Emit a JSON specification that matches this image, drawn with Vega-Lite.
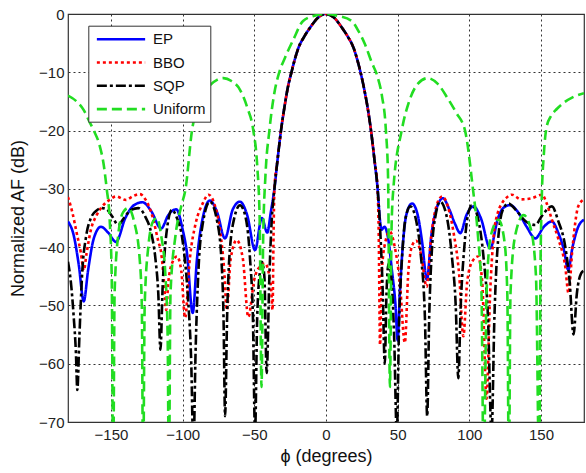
{
  "$schema": "https://vega.github.io/schema/vega-lite/v6.json",
  "width": 516,
  "height": 408,
  "autosize": {"type": "none"},
  "padding": {"left": 68, "top": 14, "right": 2, "bottom": 51},
  "background": "white",
  "data": {"values": [
    {"s":"EP","x":-180,"y":-35.6},{"s":"EP","x":-176,"y":-38},{"s":"EP","x":-172.5,"y":-43},{"s":"EP","x":-169,"y":-49.3},{"s":"EP","x":-166,"y":-44},{"s":"EP","x":-162,"y":-38.5},{"s":"EP","x":-157,"y":-36.5},{"s":"EP","x":-152,"y":-37.5},{"s":"EP","x":-146.5,"y":-39.1},{"s":"EP","x":-140,"y":-35},{"s":"EP","x":-134,"y":-32.8},{"s":"EP","x":-128,"y":-32.3},{"s":"EP","x":-122,"y":-33.8},{"s":"EP","x":-115,"y":-36.8},{"s":"EP","x":-110,"y":-34.5},{"s":"EP","x":-104.5,"y":-33.5},{"s":"EP","x":-100,"y":-37},{"s":"EP","x":-97,"y":-41},{"s":"EP","x":-93,"y":-51.3},{"s":"EP","x":-90,"y":-42},{"s":"EP","x":-86,"y":-35},{"s":"EP","x":-81,"y":-32},{"s":"EP","x":-76,"y":-34},{"s":"EP","x":-70.5,"y":-38.5},{"s":"EP","x":-65,"y":-33.5},{"s":"EP","x":-60,"y":-32.2},{"s":"EP","x":-55,"y":-34.5},{"s":"EP","x":-49.5,"y":-40.5},{"s":"EP","x":-44.8,"y":-35},{"s":"EP","x":-41,"y":-37.5},{"s":"EP","x":-38.5,"y":-34},
    {"s":"EP","x":-36,"y":-30},{"s":"EP","x":-33.8,"y":-25},{"s":"EP","x":-31.4,"y":-20},{"s":"EP","x":-29,"y":-16},{"s":"EP","x":-26.7,"y":-12.7},{"s":"EP","x":-23.9,"y":-9.8},{"s":"EP","x":-22,"y":-8},{"s":"EP","x":-19.2,"y":-5.8},{"s":"EP","x":-15,"y":-3.8},{"s":"EP","x":-11,"y":-2.3},{"s":"EP","x":-5,"y":-0.5},{"s":"EP","x":-0.5,"y":0},{"s":"EP","x":5,"y":-0.5},{"s":"EP","x":11,"y":-2.3},{"s":"EP","x":15,"y":-3.8},{"s":"EP","x":19.2,"y":-5.8},{"s":"EP","x":22,"y":-8},{"s":"EP","x":23.9,"y":-9.8},{"s":"EP","x":26.5,"y":-12.7},{"s":"EP","x":29,"y":-16},{"s":"EP","x":31.4,"y":-20},{"s":"EP","x":33.8,"y":-25},{"s":"EP","x":36,"y":-30},
    {"s":"EP","x":37.5,"y":-35},{"s":"EP","x":38.7,"y":-37},{"s":"EP","x":40.8,"y":-36.5},{"s":"EP","x":43,"y":-38},{"s":"EP","x":46,"y":-44},{"s":"EP","x":48.5,"y":-50},{"s":"EP","x":50,"y":-56},{"s":"EP","x":51.5,"y":-48},{"s":"EP","x":53.5,"y":-40},{"s":"EP","x":56,"y":-34.5},{"s":"EP","x":60,"y":-32.5},{"s":"EP","x":64,"y":-34.5},{"s":"EP","x":67,"y":-39},{"s":"EP","x":70.4,"y":-45.6},{"s":"EP","x":73.5,"y":-38},{"s":"EP","x":77,"y":-33.5},{"s":"EP","x":81.5,"y":-31.6},{"s":"EP","x":86,"y":-33.5},{"s":"EP","x":90,"y":-36},{"s":"EP","x":93.7,"y":-37.6},{"s":"EP","x":98,"y":-34.5},{"s":"EP","x":103,"y":-33},{"s":"EP","x":108,"y":-35},{"s":"EP","x":114.6,"y":-40.2},{"s":"EP","x":120,"y":-35},{"s":"EP","x":124,"y":-33.2},{"s":"EP","x":128.5,"y":-32.8},{"s":"EP","x":134,"y":-34},{"s":"EP","x":140,"y":-36.5},{"s":"EP","x":146,"y":-38.5},{"s":"EP","x":152,"y":-36.5},{"s":"EP","x":157.6,"y":-35.6},{"s":"EP","x":162,"y":-37.5},{"s":"EP","x":166,"y":-40.5},{"s":"EP","x":169,"y":-43.9},{"s":"EP","x":172,"y":-40},{"s":"EP","x":176,"y":-36.5},{"s":"EP","x":180,"y":-35.3},

    {"s":"BBO","x":-180,"y":-31.4},{"s":"BBO","x":-177,"y":-34},{"s":"BBO","x":-174,"y":-37.5},{"s":"BBO","x":-171,"y":-41},{"s":"BBO","x":-169,"y":-44},{"s":"BBO","x":-167,"y":-41},{"s":"BBO","x":-164,"y":-37},{"s":"BBO","x":-160,"y":-34.5},{"s":"BBO","x":-156,"y":-33},{"s":"BBO","x":-151,"y":-31.9},{"s":"BBO","x":-146.5,"y":-31.3},{"s":"BBO","x":-139.5,"y":-31.9},{"s":"BBO","x":-135,"y":-31.3},{"s":"BBO","x":-130,"y":-30.9},{"s":"BBO","x":-126,"y":-31.8},{"s":"BBO","x":-121,"y":-34.8},{"s":"BBO","x":-117,"y":-39},{"s":"BBO","x":-115,"y":-41},{"s":"BBO","x":-113,"y":-46},{"s":"BBO","x":-111.5,"y":-50.8},{"s":"BBO","x":-110,"y":-46},{"s":"BBO","x":-107,"y":-42.5},{"s":"BBO","x":-104,"y":-41.6},{"s":"BBO","x":-101,"y":-44},{"s":"BBO","x":-98.3,"y":-52.1},{"s":"BBO","x":-95,"y":-42},{"s":"BBO","x":-91,"y":-36},{"s":"BBO","x":-86,"y":-32.5},{"s":"BBO","x":-82,"y":-31},{"s":"BBO","x":-78,"y":-32.5},{"s":"BBO","x":-74,"y":-37},{"s":"BBO","x":-71,"y":-44},{"s":"BBO","x":-69.2,"y":-50.8},{"s":"BBO","x":-66.5,"y":-42},{"s":"BBO","x":-62.3,"y":-38.8},{"s":"BBO","x":-58,"y":-42},{"s":"BBO","x":-54.2,"y":-52},{"s":"BBO","x":-50,"y":-45.5},{"s":"BBO","x":-46,"y":-43.3},{"s":"BBO","x":-42.5,"y":-42.8},{"s":"BBO","x":-39.5,"y":-45},{"s":"BBO","x":-38.3,"y":-47},{"s":"BBO","x":-37.3,"y":-50.8},{"s":"BBO","x":-36.6,"y":-38},
    {"s":"BBO","x":-36,"y":-30},{"s":"BBO","x":-33.8,"y":-25},{"s":"BBO","x":-31.4,"y":-20},{"s":"BBO","x":-29,"y":-16},{"s":"BBO","x":-26.7,"y":-12.7},{"s":"BBO","x":-23.9,"y":-9.8},{"s":"BBO","x":-22,"y":-8},{"s":"BBO","x":-19.2,"y":-5.8},{"s":"BBO","x":-15,"y":-3.8},{"s":"BBO","x":-11,"y":-2.3},{"s":"BBO","x":-5,"y":-0.5},{"s":"BBO","x":-0.5,"y":0},{"s":"BBO","x":5,"y":-0.5},{"s":"BBO","x":11,"y":-2.3},{"s":"BBO","x":15,"y":-3.8},{"s":"BBO","x":19.2,"y":-5.8},{"s":"BBO","x":22,"y":-8},{"s":"BBO","x":23.9,"y":-9.8},{"s":"BBO","x":26.5,"y":-12.7},{"s":"BBO","x":29,"y":-16},{"s":"BBO","x":31.4,"y":-20},{"s":"BBO","x":33.8,"y":-25},{"s":"BBO","x":36,"y":-30},
    {"s":"BBO","x":36.8,"y":-38},{"s":"BBO","x":37.7,"y":-56.8},{"s":"BBO","x":39,"y":-44},{"s":"BBO","x":41.5,"y":-39},{"s":"BBO","x":44.5,"y":-37.3},{"s":"BBO","x":48,"y":-40},{"s":"BBO","x":51.5,"y":-46},{"s":"BBO","x":55,"y":-56.4},{"s":"BBO","x":57.5,"y":-44},{"s":"BBO","x":60.5,"y":-39.5},{"s":"BBO","x":63,"y":-38.9},{"s":"BBO","x":66.5,"y":-41.5},{"s":"BBO","x":70.2,"y":-46.8},{"s":"BBO","x":73.5,"y":-38},{"s":"BBO","x":77,"y":-33},{"s":"BBO","x":81,"y":-31.3},{"s":"BBO","x":85,"y":-33},{"s":"BBO","x":89,"y":-37.5},{"s":"BBO","x":93,"y":-45},{"s":"BBO","x":95.8,"y":-55.3},{"s":"BBO","x":98.5,"y":-46},{"s":"BBO","x":102,"y":-42.5},{"s":"BBO","x":106,"y":-41.6},{"s":"BBO","x":109,"y":-46},{"s":"BBO","x":112,"y":-66},{"s":"BBO","x":114.5,"y":-48},{"s":"BBO","x":117,"y":-38},{"s":"BBO","x":120,"y":-34},{"s":"BBO","x":122.7,"y":-32.5},{"s":"BBO","x":126,"y":-31.5},{"s":"BBO","x":129.7,"y":-31},{"s":"BBO","x":136,"y":-31.8},{"s":"BBO","x":143.6,"y":-31.6},{"s":"BBO","x":150.6,"y":-31},{"s":"BBO","x":154,"y":-32.5},{"s":"BBO","x":157.6,"y":-35.3},{"s":"BBO","x":162,"y":-38.5},{"s":"BBO","x":166.9,"y":-43.3},{"s":"BBO","x":169.2,"y":-47.9},{"s":"BBO","x":172,"y":-40},{"s":"BBO","x":176,"y":-33},{"s":"BBO","x":180,"y":-31.8},

    {"s":"SQP","x":-180,"y":-42.5},{"s":"SQP","x":-178,"y":-46},{"s":"SQP","x":-176,"y":-52},{"s":"SQP","x":-174.5,"y":-58},{"s":"SQP","x":-173.5,"y":-64.5},{"s":"SQP","x":-172,"y":-55},{"s":"SQP","x":-170,"y":-44},{"s":"SQP","x":-167.4,"y":-38.2},{"s":"SQP","x":-164,"y":-35},{"s":"SQP","x":-160,"y":-33.7},{"s":"SQP","x":-156,"y":-33.3},{"s":"SQP","x":-153,"y":-33.5},{"s":"SQP","x":-149,"y":-34.8},{"s":"SQP","x":-145,"y":-36.2},{"s":"SQP","x":-141,"y":-35},{"s":"SQP","x":-136,"y":-33.6},{"s":"SQP","x":-131,"y":-33.3},{"s":"SQP","x":-126,"y":-34.8},{"s":"SQP","x":-122,"y":-37.5},{"s":"SQP","x":-119,"y":-42},{"s":"SQP","x":-117,"y":-48},{"s":"SQP","x":-115.5,"y":-57.6},{"s":"SQP","x":-114,"y":-47},{"s":"SQP","x":-111.5,"y":-38},{"s":"SQP","x":-107.5,"y":-33.6},{"s":"SQP","x":-104,"y":-35},{"s":"SQP","x":-100,"y":-39},{"s":"SQP","x":-96.5,"y":-48},{"s":"SQP","x":-94,"y":-60},{"s":"SQP","x":-92.5,"y":-75},{"s":"SQP","x":-91,"y":-58},{"s":"SQP","x":-89,"y":-44},{"s":"SQP","x":-86,"y":-36},{"s":"SQP","x":-81,"y":-32.2},{"s":"SQP","x":-76,"y":-35.5},{"s":"SQP","x":-73,"y":-42},{"s":"SQP","x":-71.5,"y":-52},{"s":"SQP","x":-70.4,"y":-69},{"s":"SQP","x":-69,"y":-52},{"s":"SQP","x":-67.5,"y":-42},{"s":"SQP","x":-64,"y":-35},{"s":"SQP","x":-60,"y":-32.8},{"s":"SQP","x":-56,"y":-35},{"s":"SQP","x":-53,"y":-42},{"s":"SQP","x":-51,"y":-52},{"s":"SQP","x":-49.5,"y":-72},{"s":"SQP","x":-48,"y":-52},{"s":"SQP","x":-46,"y":-44},{"s":"SQP","x":-44.8,"y":-42.5},{"s":"SQP","x":-43,"y":-45},{"s":"SQP","x":-41.4,"y":-61.6},{"s":"SQP","x":-39.5,"y":-45},{"s":"SQP","x":-38,"y":-36},
    {"s":"SQP","x":-36,"y":-30},{"s":"SQP","x":-33.8,"y":-25},{"s":"SQP","x":-31.4,"y":-20},{"s":"SQP","x":-29,"y":-16},{"s":"SQP","x":-26.7,"y":-12.7},{"s":"SQP","x":-23.9,"y":-9.8},{"s":"SQP","x":-22,"y":-8},{"s":"SQP","x":-19.2,"y":-5.8},{"s":"SQP","x":-15,"y":-3.8},{"s":"SQP","x":-11,"y":-2.3},{"s":"SQP","x":-5,"y":-0.5},{"s":"SQP","x":-0.5,"y":0},{"s":"SQP","x":5,"y":-0.5},{"s":"SQP","x":11,"y":-2.3},{"s":"SQP","x":15,"y":-3.8},{"s":"SQP","x":19.2,"y":-5.8},{"s":"SQP","x":22,"y":-8},{"s":"SQP","x":23.9,"y":-9.8},{"s":"SQP","x":26.5,"y":-12.7},{"s":"SQP","x":29,"y":-16},{"s":"SQP","x":31.4,"y":-20},{"s":"SQP","x":33.8,"y":-25},{"s":"SQP","x":36,"y":-30},
    {"s":"SQP","x":37.8,"y":-37},{"s":"SQP","x":39.5,"y":-47},{"s":"SQP","x":41,"y":-60},{"s":"SQP","x":42.2,"y":-48},{"s":"SQP","x":43.7,"y":-42.8},{"s":"SQP","x":45.5,"y":-45},{"s":"SQP","x":47.5,"y":-55},{"s":"SQP","x":49.4,"y":-72},{"s":"SQP","x":51,"y":-53},{"s":"SQP","x":53,"y":-42},{"s":"SQP","x":55.5,"y":-35},{"s":"SQP","x":58.8,"y":-33},{"s":"SQP","x":62.5,"y":-35},{"s":"SQP","x":66,"y":-41},{"s":"SQP","x":69,"y":-52},{"s":"SQP","x":70.6,"y":-69},{"s":"SQP","x":72,"y":-52},{"s":"SQP","x":74,"y":-40},{"s":"SQP","x":76.5,"y":-34.5},{"s":"SQP","x":79.7,"y":-32.2},{"s":"SQP","x":84,"y":-34.5},{"s":"SQP","x":88,"y":-42},{"s":"SQP","x":90.5,"y":-50},{"s":"SQP","x":92.3,"y":-62.5},{"s":"SQP","x":94,"y":-50},{"s":"SQP","x":96.5,"y":-40},{"s":"SQP","x":99,"y":-34.5},{"s":"SQP","x":101.8,"y":-32.8},{"s":"SQP","x":106,"y":-35},{"s":"SQP","x":110,"y":-42},{"s":"SQP","x":113,"y":-52},{"s":"SQP","x":115.5,"y":-72},{"s":"SQP","x":117.5,"y":-52},{"s":"SQP","x":120,"y":-39},{"s":"SQP","x":123.5,"y":-33.5},{"s":"SQP","x":127.4,"y":-32.5},{"s":"SQP","x":132,"y":-33.5},{"s":"SQP","x":139,"y":-35.5},{"s":"SQP","x":146,"y":-36.2},{"s":"SQP","x":151,"y":-34.5},{"s":"SQP","x":157.6,"y":-33},{"s":"SQP","x":162,"y":-35.5},{"s":"SQP","x":166.9,"y":-39.9},{"s":"SQP","x":170,"y":-46},{"s":"SQP","x":172.7,"y":-55},{"s":"SQP","x":175,"y":-48},{"s":"SQP","x":178,"y":-44.5},{"s":"SQP","x":180,"y":-44},

    {"s":"Uniform","x":-180,"y":-14},{"s":"Uniform","x":-174,"y":-15},{"s":"Uniform","x":-169,"y":-16.5},{"s":"Uniform","x":-165,"y":-18.5},{"s":"Uniform","x":-162,"y":-20},{"s":"Uniform","x":-158,"y":-22.5},{"s":"Uniform","x":-155,"y":-26},{"s":"Uniform","x":-153,"y":-30},{"s":"Uniform","x":-151,"y":-35},{"s":"Uniform","x":-149.5,"y":-45},{"s":"Uniform","x":-148.5,"y":-80},{"s":"Uniform","x":-147.5,"y":-48},{"s":"Uniform","x":-145,"y":-38},{"s":"Uniform","x":-141.5,"y":-34},{"s":"Uniform","x":-138,"y":-33.3},{"s":"Uniform","x":-134,"y":-35.5},{"s":"Uniform","x":-130,"y":-42},{"s":"Uniform","x":-128.5,"y":-50},{"s":"Uniform","x":-127.6,"y":-80},{"s":"Uniform","x":-126.5,"y":-50},{"s":"Uniform","x":-124,"y":-40},{"s":"Uniform","x":-120.5,"y":-35.5},{"s":"Uniform","x":-118,"y":-35},{"s":"Uniform","x":-115,"y":-38},{"s":"Uniform","x":-112,"y":-45},{"s":"Uniform","x":-110.5,"y":-55},{"s":"Uniform","x":-109.6,"y":-80},{"s":"Uniform","x":-108.5,"y":-48},{"s":"Uniform","x":-105,"y":-38},{"s":"Uniform","x":-101,"y":-33},{"s":"Uniform","x":-98,"y":-30},{"s":"Uniform","x":-93.5,"y":-20},{"s":"Uniform","x":-88,"y":-15},{"s":"Uniform","x":-82,"y":-12.5},{"s":"Uniform","x":-76,"y":-11.3},{"s":"Uniform","x":-71.5,"y":-11},{"s":"Uniform","x":-66,"y":-11.5},{"s":"Uniform","x":-60,"y":-13},{"s":"Uniform","x":-55,"y":-16},{"s":"Uniform","x":-50.7,"y":-20},{"s":"Uniform","x":-48,"y":-26},{"s":"Uniform","x":-46.3,"y":-35},{"s":"Uniform","x":-45,"y":-64},{"s":"Uniform","x":-43.8,"y":-38},{"s":"Uniform","x":-42.3,"y":-28},{"s":"Uniform","x":-39.5,"y":-20},{"s":"Uniform","x":-36,"y":-13.5},{"s":"Uniform","x":-32.6,"y":-10},{"s":"Uniform","x":-28.6,"y":-7.5},{"s":"Uniform","x":-22.8,"y":-4.4},{"s":"Uniform","x":-16,"y":-1.2},{"s":"Uniform","x":-8,"y":-0.3},{"s":"Uniform","x":0,"y":0},{"s":"Uniform","x":8,"y":-0.3},{"s":"Uniform","x":17.9,"y":-1.2},{"s":"Uniform","x":22.8,"y":-3},{"s":"Uniform","x":27.2,"y":-5.2},{"s":"Uniform","x":31.9,"y":-8.3},{"s":"Uniform","x":36,"y":-10.8},{"s":"Uniform","x":39,"y":-14},{"s":"Uniform","x":41.8,"y":-20},{"s":"Uniform","x":43.3,"y":-28},{"s":"Uniform","x":44.6,"y":-64},{"s":"Uniform","x":45.8,"y":-36},{"s":"Uniform","x":47,"y":-30},{"s":"Uniform","x":52.8,"y":-20},{"s":"Uniform","x":58,"y":-15},{"s":"Uniform","x":64,"y":-12},{"s":"Uniform","x":71,"y":-11},{"s":"Uniform","x":78,"y":-12},{"s":"Uniform","x":85,"y":-14.5},{"s":"Uniform","x":91,"y":-17},{"s":"Uniform","x":97,"y":-20},{"s":"Uniform","x":102.5,"y":-30},{"s":"Uniform","x":106,"y":-38},{"s":"Uniform","x":108.5,"y":-48},{"s":"Uniform","x":110,"y":-80},{"s":"Uniform","x":112,"y":-48},{"s":"Uniform","x":115,"y":-38},{"s":"Uniform","x":120.4,"y":-35.3},{"s":"Uniform","x":124.5,"y":-39},{"s":"Uniform","x":126.5,"y":-48},{"s":"Uniform","x":127.6,"y":-80},{"s":"Uniform","x":128.7,"y":-48},{"s":"Uniform","x":132,"y":-38},{"s":"Uniform","x":137.9,"y":-34.5},{"s":"Uniform","x":143,"y":-37},{"s":"Uniform","x":146.5,"y":-45},{"s":"Uniform","x":148.8,"y":-80},{"s":"Uniform","x":149.6,"y":-45},{"s":"Uniform","x":150.5,"y":-32},{"s":"Uniform","x":152,"y":-24},{"s":"Uniform","x":154,"y":-19.3},{"s":"Uniform","x":157,"y":-17.5},{"s":"Uniform","x":161,"y":-16.3},{"s":"Uniform","x":166,"y":-15.2},{"s":"Uniform","x":172,"y":-14.3},{"s":"Uniform","x":180,"y":-13.6}
  ]},
  "mark": {"type": "line", "clip": true, "interpolate": "monotone", "strokeWidth": 2.6, "strokeCap": "butt"},
  "encoding": {
    "x": {"field": "x", "type": "quantitative", "title": "ϕ (degrees)",
      "scale": {"domain": [-180, 180], "nice": false, "zero": false},
      "axis": {"values": [-150, -100, -50, 0, 50, 100, 150], "labelPadding": 5, "titlePadding": 5}},
    "y": {"field": "y", "type": "quantitative", "title": "Normalized AF (dB)",
      "scale": {"domain": [-70, 0], "nice": false, "zero": false},
      "axis": {"values": [-70, -60, -50, -40, -30, -20, -10, 0], "labelPadding": 4, "titlePadding": 11}},
    "color": {"field": "s", "type": "nominal", "title": null,
      "scale": {"domain": ["EP", "BBO", "SQP", "Uniform"], "range": ["#0000ff", "#ff0000", "#000000", "#22dd22"]}},
    "strokeDash": {"field": "s", "type": "nominal", "title": null,
      "scale": {"domain": ["EP", "BBO", "SQP", "Uniform"], "range": [[1, 0], [3, 3], [10, 3, 3, 3], [10, 5]]}}
  },
  "config": {
    "view": {"stroke": "#333", "strokeWidth": 1.2},
    "axis": {"grid": true, "gridColor": "#333", "gridDash": [2, 3], "gridWidth": 1, "gridOpacity": 1,
      "domain": false, "ticks": false,
      "labelFont": "Liberation Sans", "labelFontSize": 15, "labelColor": "#222",
      "titleFont": "Liberation Sans", "titleFontSize": 18, "titleFontWeight": "normal", "titleColor": "#111"},
    "legend": {"orient": "none", "legendX": 20.3, "legendY": 11.7, "strokeColor": "#333", "fillColor": "white",
      "padding": 4, "symbolType": "M-3,0H3", "symbolSize": 259, "symbolStrokeWidth": 2.6, "symbolOffset": 19.2,
      "labelFont": "Liberation Sans", "labelFontSize": 15, "labelColor": "#111", "labelOffset": 22.5, "rowPadding": 5.3}
  }
}
